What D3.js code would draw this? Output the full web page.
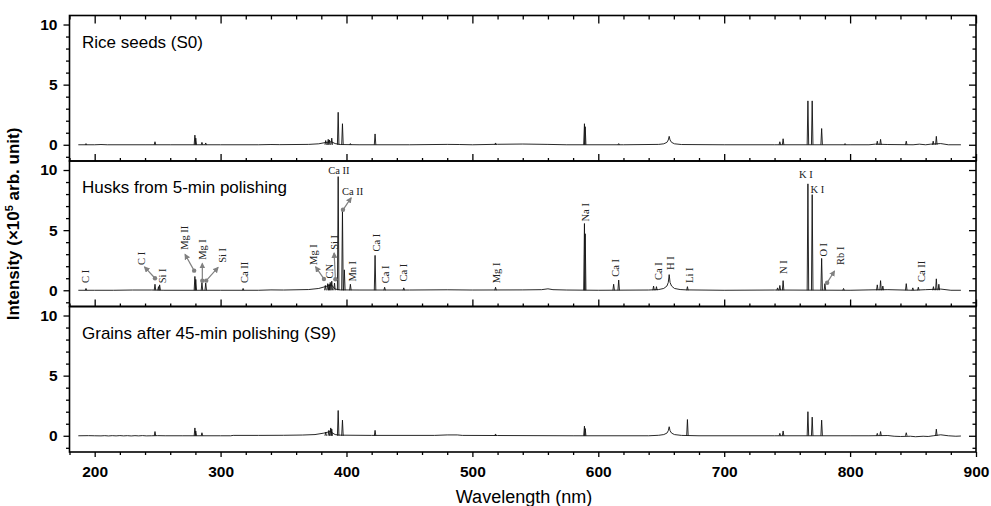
<!DOCTYPE html>
<html>
<head>
<meta charset="utf-8">
<script src="https://cdn.jsdelivr.net/npm/d3@7"></script>
<style>
body { margin: 0; background: #fff; }
svg { display: block; }
</style>
</head>
<body>
<script>

// x ticks every 20 nm, labels every 100 nm
const xTickLabels = [200, 300, 400, 500, 600, 700, 800, 900];
const yTickLabels = [0, 5, 10];
const panelNames = ["Rice seeds (S0)", "Husks from 5-min polishing", "Grains after 45-min polishing (S9)"];

// continuum of each spectrum [nm, intensity]
const riceBase = [[187,0],[200,0],[205,0.02],[210,0],[240,0],[260,0],[300,0],[330,0],[340,0.02],[347,0.01],[370,0.03],[378,0.08],[383,0.18],[388,0.25],[391,0.1],[395,0.02],[410,0],[450,0],[480,0.03],[490,0.02],[500,0],[520,0.04],[540,0.06],[560,0.03],[575,0],[620,0],[648,0.03],[652,0.08],[654.5,0.2],[655.6,0.4],[656.3,0.7],[657,0.4],[658.2,0.2],[660.5,0.08],[666,0.02],[700,0],[740,0],[800,0],[815,0],[820,0.05],[830,0.02],[850,0],[855,0.05],[860,0],[864,0.05],[872,0.1],[878,0],[888,0]];
const husksBase = [[187,0],[200,0],[215,0],[230,0.02],[245,0.02],[255,0],[300,0],[330,0],[340,0.03],[350,0.02],[370,0.06],[378,0.15],[383,0.3],[388,0.45],[391,0.1],[395,0.03],[410,0.02],[450,0.02],[480,0.04],[500,0.02],[540,0.03],[555,0.05],[560,0.12],[564,0.05],[575,0.02],[600,0],[640,0.02],[648,0.06],[652,0.15],[654.5,0.35],[655.6,0.65],[656.3,1.3],[657,0.65],[658.2,0.35],[660.5,0.15],[665,0.06],[670,0.03],[700,0],[740,0.02],[800,0],[815,0.03],[830,0.05],[850,0],[860,0.05],[872,0.1],[880,0],[888,0]];
const grainsBase = [[187,0],[195,0.01],[200,0],[205,-0.01],[208,0.01],[211,-0.015],[214,0.01],[217,-0.01],[220,0.015],[223,-0.01],[226,0.01],[229,-0.015],[232,0.01],[235,-0.01],[238,0.015],[241,-0.01],[245,0],[250,0.01],[256,0],[270,0],[300,0],[308,0],[310,0.03],[330,0.03],[350,0.04],[365,0.06],[375,0.1],[382,0.22],[387,0.35],[391,0.1],[395,0.05],[420,0.03],[470,0.03],[480,0.07],[488,0.07],[492,0.03],[520,0.02],[580,0],[640,0],[648,0.04],[652,0.1],[654.5,0.22],[655.6,0.42],[656.3,0.75],[657,0.42],[658.2,0.22],[660.5,0.1],[666,0.03],[680,0],[740,0],[800,0],[815,0],[830,0.02],[835,-0.04],[840,-0.06],[848,-0.04],[852,-0.08],[858,-0.04],[862,-0.06],[866,0],[872,0.08],[878,0],[884,-0.04],[888,-0.02]];

// emission lines [nm, peak intensity]
const riceLines = [[193.1,0.1],[247.9,0.25],[279.6,0.8],[280.3,0.55],[285.2,0.2],[288.2,0.15],[383.5,0.35],[385.5,0.45],[386.5,0.4],[388.3,0.55],[393.4,2.7],[396.8,1.75],[403.1,0.1],[422.7,0.9],[518.4,0.15],[589.0,1.75],[589.6,1.5],[616.2,0.1],[744.2,0.25],[746.8,0.5],[766.5,3.65],[769.9,3.65],[777.4,1.35],[796,0.1],[821.6,0.3],[824.2,0.45],[844.6,0.3],[866,0.3],[868.5,0.7]];
const husksLines = [[193.1,0.15],[247.9,0.5],[250.7,0.3],[251.6,0.45],[279.6,1.15],[280.3,0.9],[285.2,0.65],[288.2,0.6],[317.9,0.15],[383.2,0.4],[385.1,0.55],[386.2,0.5],[387.1,0.65],[388.3,0.75],[390.5,0.6],[393.4,9.45],[396.8,6.7],[398.3,1.7],[403.1,0.5],[422.7,2.9],[430.3,0.25],[445.5,0.2],[518.4,0.25],[589.0,5.55],[589.6,4.7],[612.2,0.5],[616.2,0.85],[643.9,0.35],[646.2,0.3],[670.8,0.3],[742.4,0.2],[744.2,0.4],[746.8,0.8],[766.5,8.85],[769.9,7.95],[777.4,2.65],[780.0,0.55],[794.8,0.15],[821.6,0.45],[824.2,0.8],[826,0.35],[844.6,0.55],[849.8,0.2],[854.2,0.25],[866.2,0.3],[868.5,0.95],[870.5,0.5]];
const grainsLines = [[247.9,0.35],[279.6,0.65],[280.3,0.4],[285.2,0.25],[383.5,0.3],[386,0.45],[387.5,0.65],[388.3,0.55],[393.4,2.1],[396.8,1.3],[422.7,0.45],[518.4,0.15],[589.0,0.8],[589.6,0.6],[670.8,1.35],[744.2,0.2],[746.8,0.4],[766.5,2.0],[769.9,1.55],[777.4,1.3],[821.6,0.2],[824.2,0.35],[844.6,0.25],[868.5,0.55]];

// line identifications in the husks panel [text, nm, intensity, rotated]
const husksLabels = [
    ["C I", 192.7, 0.61, 1], ["C I", 237.0, 2.11, 1], ["Si I", 254.1, 0.58, 1],
    ["Mg II", 270.8, 3.36, 1], ["Mg I", 285.5, 2.53, 1], ["Si I", 301.4, 2.28, 1],
    ["Ca II", 318.5, 0.61, 1], ["Mg I", 373.4, 2.11, 1], ["CN", 386.6, 0.98, 1],
    ["Si I", 390.0, 3.36, 1], ["Mn I", 404.7, 0.72, 1], ["Ca I", 423.4, 3.22, 1],
    ["Ca I", 431.1, 0.58, 1], ["Ca I", 445.2, 0.72, 1], ["Mg I", 519.1, 0.58, 1],
    ["Na I", 589.8, 5.72, 1], ["Ca I", 613.9, 1.13, 1], ["Ca I", 647.5, 0.86, 1],
    ["H I", 657.6, 1.69, 1], ["Li I", 671.9, 0.61, 1], ["N I", 746.9, 1.36, 1],
    ["O I", 778.7, 2.8, 1], ["Rb I", 791.9, 2.11, 1], ["Ca II", 856.3, 0.69, 1],
    ["Ca II", 394.0, 9.69, 0], ["Ca II", 404.9, 7.94, 0],
    ["K I", 764.9, 9.32, 0], ["K I", 774.0, 8.11, 0]
];
// pointer arrows [from nm, from intensity, to nm, to intensity]
const husksArrows = [
    [247.9, 1.0, 239.6, 1.94], [279.0, 1.63, 271.8, 2.98], [285.5, 0.8, 285.5, 2.23],
    [288.6, 0.8, 298.0, 1.9], [382.1, 0.94, 375.5, 1.94], [391.2, 0.92, 390.2, 3.1],
    [397.2, 6.69, 403.7, 7.69], [781.8, 0.63, 787.6, 1.6]
];

let width = 991;
let height = 506;
let plotLeft = 69.5;
let plotRight = 976;
let plotTop = 15.5;
let panelH = 145.5;

let svg = d3.select("body")
    .append("svg")
    .attr("width", width)
    .attr("height", height)

svg.append("defs").append("marker")
    .attr("id", "head")
    .attr("markerUnits", "userSpaceOnUse")
    .attr("markerWidth", 7)
    .attr("markerHeight", 7)
    .attr("refX", 5)
    .attr("refY", 3)
    .attr("orient", "auto")
    .append("path")
    .attr("d", "M0,0L6,3L0,6z")
    .attr("fill", "#808080")

let xScale = d3.scaleLinear()
    .domain([180, 900])
    .range([plotLeft, plotRight])

let xTicks = d3.range(180, 901, 20)
let yTicks = d3.range(-1, 11)

let panels = [
    { name: panelNames[0], base: riceBase, lines: riceLines },
    { name: panelNames[1], base: husksBase, lines: husksLines },
    { name: panelNames[2], base: grainsBase, lines: grainsLines }
]

const tickFont = (sel) => sel.selectAll("text")
    .attr("font-family", "'Liberation Sans', Arial, sans-serif")
    .attr("font-weight", "bold")
    .attr("font-size", "15.5px")
    .attr("fill", "#000")

panels.forEach((p, i) => {
    let g = svg.append("g").attr("transform", "translate(0," + (plotTop + i * panelH) + ")")

    let yScale = d3.scaleLinear()
        .domain([-1.35, 10.75])
        .range([panelH, 0])

    let line = d3.line()
        .x(d => xScale(d[0]))
        .y(d => yScale(d[1]))

    // continuum
    g.append("path")
        .datum(p.base)
        .attr("d", line)
        .attr("fill", "none")
        .attr("stroke", "#111")
        .attr("stroke-width", 0.9)

    // spikes
    g.selectAll(".peak")
        .data(p.lines)
        .enter()
        .append("path")
        .attr("class", "peak")
        .attr("d", d => line([[d[0] - 0.6, 0], [d[0], d[1]], [d[0] + 0.6, 0]]))
        .attr("fill", "none")
        .attr("stroke", "#111")
        .attr("stroke-width", 0.9)

    // left axis
    let yAxis = d3.axisLeft(yScale)
        .tickValues(yTicks)
        .tickSize(6)
        .tickPadding(6)
        .tickFormat(d => yTickLabels.includes(d) ? d : "")
    let ya = g.append("g")
        .attr("transform", "translate(" + plotLeft + ",0)")
        .call(yAxis)
    ya.select(".domain").remove()
    ya.selectAll(".tick line").attr("x2", d => yTickLabels.includes(d) ? -6 : -3.5).attr("stroke-width", 1.3)
    tickFont(ya)

    // right axis, ticks inside
    let ra = g.append("g")
        .attr("transform", "translate(" + plotRight + ",0)")
        .call(d3.axisRight(yScale).tickValues(yTicks).tickSize(-7).tickFormat(""))
    ra.select(".domain").remove()
    ra.selectAll(".tick line").attr("x2", d => yTickLabels.includes(d) ? -7 : -3.5).attr("stroke-width", 1.3)

    // top axis only on first panel
    if (i == 0) {
        let ta = g.append("g")
            .call(d3.axisTop(xScale).tickValues(xTicks).tickSize(-8).tickFormat(""))
        ta.select(".domain").remove()
        ta.selectAll(".tick line").attr("y2", d => d % 100 == 0 ? 8 : 4).attr("stroke-width", 1.3)
    }

    // bottom axis
    if (i < 2) {
        let ba = g.append("g")
            .attr("transform", "translate(0," + panelH + ")")
            .call(d3.axisBottom(xScale).tickValues(xTicks).tickSize(-7).tickFormat(""))
        ba.select(".domain").remove()
        ba.selectAll(".tick line").attr("y2", d => d % 100 == 0 ? -7 : -3).attr("stroke-width", 1.3)
    } else {
        let ba = g.append("g")
            .attr("transform", "translate(0," + panelH + ")")
            .call(d3.axisBottom(xScale).tickValues(xTicks).tickSize(5).tickPadding(9)
                .tickFormat(d => xTickLabels.includes(d) ? d : ""))
        ba.select(".domain").remove()
        ba.selectAll(".tick line").attr("y2", d => d % 100 == 0 ? 5 : 3).attr("stroke-width", 1.3)
        tickFont(ba)
    }

    // frame
    g.append("rect")
        .attr("x", plotLeft)
        .attr("y", 0)
        .attr("width", plotRight - plotLeft)
        .attr("height", panelH)
        .attr("fill", "none")
        .attr("stroke", "#000")
        .attr("stroke-width", 1.6)

    // panel title
    g.append("text")
        .attr("x", 82)
        .attr("y", 32)
        .attr("font-family", "'Liberation Sans', Arial, sans-serif")
        .attr("font-size", "17px")
        .text(p.name)

    if (i == 1) {
        let ann = g.append("g")
            .attr("font-family", "'Liberation Serif', 'Times New Roman', serif")
            .attr("font-size", "10.5px")
            .attr("fill", "#222")

        ann.selectAll(".lbl")
            .data(husksLabels)
            .enter()
            .append("text")
            .attr("class", "lbl")
            .attr("transform", d => "translate(" + xScale(d[1]) + "," + yScale(d[2]) + ")" + (d[3] ? " rotate(-90)" : ""))
            .attr("text-anchor", d => d[3] ? "start" : "middle")
            .attr("dy", d => d[3] ? "0.35em" : 0)
            .text(d => d[0])

        ann.selectAll(".arr")
            .data(husksArrows)
            .enter()
            .append("line")
            .attr("class", "arr")
            .attr("x1", d => xScale(d[0]))
            .attr("y1", d => yScale(d[1]))
            .attr("x2", d => xScale(d[2]))
            .attr("y2", d => yScale(d[3]))
            .attr("stroke", "#808080")
            .attr("stroke-width", 1.2)
            .attr("marker-end", "url(#head)")

        ann.selectAll(".dot")
            .data(husksArrows)
            .enter()
            .append("circle")
            .attr("class", "dot")
            .attr("cx", d => xScale(d[0]))
            .attr("cy", d => yScale(d[1]))
            .attr("r", 2.2)
            .attr("fill", "#808080")
    }
})

// axis titles
svg.append("text")
    .attr("x", 524)
    .attr("y", 503)
    .attr("text-anchor", "middle")
    .attr("font-family", "'Liberation Sans', Arial, sans-serif")
    .attr("font-size", "18px")
    .text("Wavelength (nm)")

let yLabel = svg.append("text")
    .attr("transform", "translate(19,224) rotate(-90)")
    .attr("text-anchor", "middle")
    .attr("font-family", "'Liberation Sans', Arial, sans-serif")
    .attr("font-weight", "bold")
    .attr("font-size", "17px")
yLabel.append("tspan").text("Intensity (\u00d710")
yLabel.append("tspan").attr("dy", -6).attr("font-size", "11px").text("5")
yLabel.append("tspan").attr("dy", 6).text(" arb. unit)")

</script>
</body>
</html>
